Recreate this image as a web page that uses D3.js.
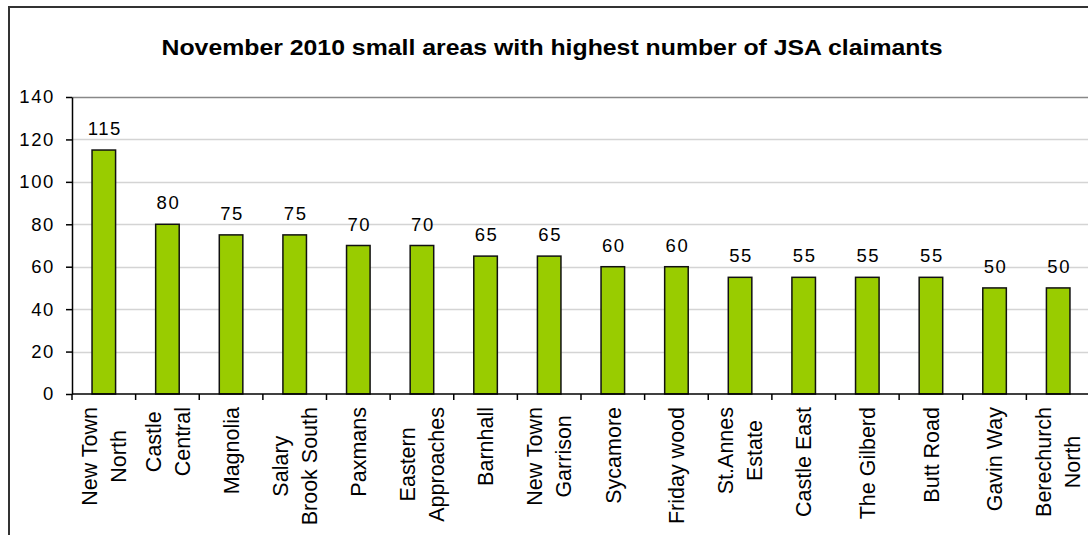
<!DOCTYPE html>
<html>
<head>
<meta charset="utf-8">
<script src="https://cdn.jsdelivr.net/npm/d3@7"></script>
<style>
  html, body { margin: 0; padding: 0; background: #fff; }
  svg { display: block; }
  text { font-family: Arial, "Liberation Sans", sans-serif; fill: #000; }
</style>
</head>
<body>
<svg id="chart" width="1088" height="535"></svg>
<script>
// Small areas (multi-line labels split on "\n") and their JSA claimant counts
const areas = [
  "New Town\nNorth", "Castle\nCentral", "Magnolia", "Salary\nBrook South",
  "Paxmans", "Eastern\nApproaches", "Barnhall", "New Town\nGarrison",
  "Sycamore", "Friday wood", "St.Annes\nEstate", "Castle East",
  "The Gilberd", "Butt Road", "Gavin Way", "Berechurch\nNorth"
];
const claimants = [115, 80, 75, 75, 70, 70, 65, 65, 60, 60, 55, 55, 55, 55, 50, 50];
const yTicks = [0, 20, 40, 60, 80, 100, 120, 140];
const title = "November 2010 small areas with highest number of JSA claimants";

const svg = d3.select("#chart");

// Chart frame (extends past the right and bottom edges)
svg.append("rect")
  .attr("x", 9).attr("y", 7)
  .attr("width", 1200).attr("height", 700)
  .attr("fill", "#fff").attr("stroke", "#333").attr("stroke-width", 2);

const plot = { left: 72, right: 1090, top: 97, bottom: 394 };

const x = d3.scaleBand()
  .domain(d3.range(areas.length))
  .range([plot.left, plot.right])
  .paddingInner(0.63).paddingOuter(0.315);

const band = d3.scaleBand()
  .domain(d3.range(areas.length))
  .range([plot.left, plot.right]);

const y = d3.scaleLinear().domain([0, 140]).range([plot.bottom, plot.top]);

// Title
svg.append("text")
  .attr("x", 552).attr("y", 54.5)
  .attr("text-anchor", "middle")
  .attr("font-size", 21.5).attr("font-weight", "bold")
  .attr("textLength", 781).attr("lengthAdjust", "spacingAndGlyphs")
  .text(title);

// Horizontal gridlines
svg.append("g").selectAll("line")
  .data(yTicks.filter(t => t > 0 && t < 140))
  .join("line")
  .attr("x1", plot.left).attr("x2", plot.right)
  .attr("y1", d => Math.round(y(d)) + 0.5).attr("y2", d => Math.round(y(d)) + 0.5)
  .attr("stroke", "#d4d4d4").attr("stroke-width", 1.5);

// Plot-area top border
svg.append("line")
  .attr("x1", plot.left).attr("x2", plot.right)
  .attr("y1", Math.round(y(140)) + 0.5).attr("y2", Math.round(y(140)) + 0.5)
  .attr("stroke", "#888").attr("stroke-width", 1.5);

// Bars
svg.append("g").selectAll("rect")
  .data(claimants)
  .join("rect")
  .attr("x", (d, i) => x(i))
  .attr("y", d => y(d))
  .attr("width", x.bandwidth())
  .attr("height", d => y(0) - y(d))
  .attr("fill", "#99cc00")
  .attr("stroke", "#111").attr("stroke-width", 1.5);

// Value labels
svg.append("g").selectAll("text")
  .data(claimants)
  .join("text")
  .attr("x", (d, i) => x(i) + x.bandwidth() / 2 + 1)
  .attr("y", d => y(d) - 15)
  .attr("text-anchor", "middle")
  .attr("font-size", 18.5)
  .attr("letter-spacing", 1.6)
  .text(d => d);

// Y axis
const yAxis = svg.append("g")
  .attr("transform", `translate(${plot.left},0)`)
  .call(d3.axisLeft(y).tickValues(yTicks).tickSize(6).tickPadding(11).tickSizeOuter(0));
yAxis.select(".domain").attr("stroke", "#000").attr("stroke-width", 1.5);
yAxis.selectAll(".tick line").attr("stroke", "#000").attr("stroke-width", 1.5);
yAxis.selectAll(".tick text")
  .attr("font-size", 18.5)
  .attr("letter-spacing", 1.6)
  .attr("font-family", "Arial, 'Liberation Sans', sans-serif")
  .attr("fill", "#000");

// X axis: tick marks sit on band boundaries
const xAxisG = svg.append("g");
xAxisG.append("line")
  .attr("x1", plot.left).attr("x2", plot.right)
  .attr("y1", plot.bottom).attr("y2", plot.bottom)
  .attr("stroke", "#000").attr("stroke-width", 1.5);
xAxisG.selectAll("line.tk")
  .data(d3.range(areas.length + 1))
  .join("line")
  .attr("class", "tk")
  .attr("x1", i => i < areas.length ? band(i) : plot.right)
  .attr("x2", i => i < areas.length ? band(i) : plot.right)
  .attr("y1", plot.bottom).attr("y2", plot.bottom + 6)
  .attr("stroke", "#000").attr("stroke-width", 1.5);

// Rotated category labels, lines centred, block starting just below the axis
const lineGap = 29;
const labelFont = 21.5;
const labels = xAxisG.selectAll("g.lbl")
  .data(areas)
  .join("g")
  .attr("class", "lbl");

labels.each(function (name, i) {
  const g = d3.select(this);
  const lines = name.split("\n");
  const t = g.append("text")
    .attr("text-anchor", "middle")
    .attr("font-size", labelFont);
  lines.forEach((ln, k) => {
    t.append("tspan")
      .attr("x", 0)
      .attr("y", (k - (lines.length - 1) / 2) * lineGap + labelFont * 0.36)
      .text(ln);
  });
  const w = d3.max(t.selectAll("tspan").nodes(), n => n.getComputedTextLength());
  const cx = band(i) + band.bandwidth() / 2;
  const cy = plot.bottom + 13 + w / 2;
  g.attr("transform", `translate(${cx},${cy}) rotate(-90)`);
});
</script>
</body>
</html>
